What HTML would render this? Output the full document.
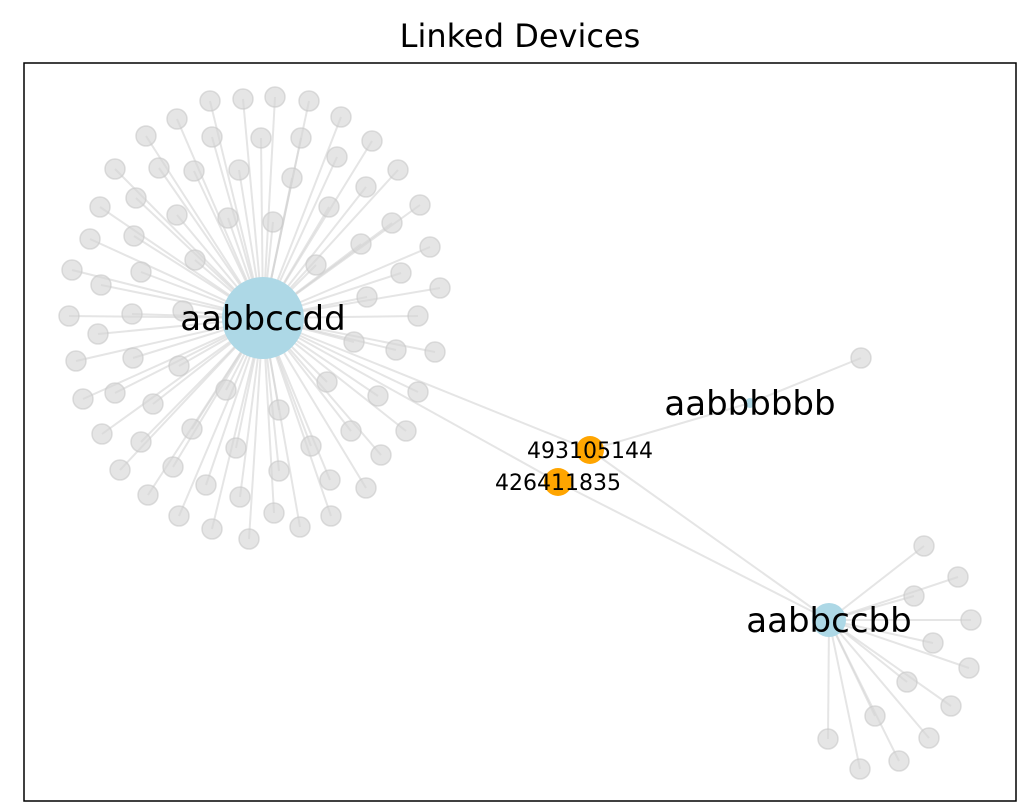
<!DOCTYPE html>
<html><head><meta charset="utf-8"><style>
html,body{margin:0;padding:0;background:#fff;}
svg{display:block;font-family:"DejaVu Sans","Liberation Sans",sans-serif;}
</style></head><body>
<svg id="chart" width="1036" height="810" viewBox="0 0 1036 810">
<text x="520" y="47" text-anchor="middle" font-size="32">Linked Devices</text>
<rect x="24" y="63" width="992" height="738" fill="none" stroke="#000" stroke-width="1.5"/>
<g id="edges"></g>
<g id="nodes"></g>
<g id="labels"></g>
</svg>
<script>
const hubNames = ["aabbccdd","aabbccbb","aabbbbbb"];
const hubX = [263,829,750];
const hubY = [318,620,403];
const hubR = [41,17,5];
const hubFont = [34,34,34];
const bridgeNames = ["493105144","426411835"];
const bridgeX = [590,558];
const bridgeY = [450,482];
const leafAX = [210,243,275,309,341,177,146,212,261,301,372,115,159,194,239,292,337,398,366,100,136,177,228,273,329,420,392,90,134,361,430,195,316,401,72,101,141,367,440,69,98,132,183,418,435,354,396,76,133,179,83,115,153,226,327,378,418,102,141,192,279,351,406,120,173,236,311,381,148,206,279,330,366,179,240,212,249,274,300,331];
const leafAY = [101,99,97,101,117,119,136,137,138,138,141,169,168,171,170,178,157,170,187,207,198,215,218,222,207,205,223,239,236,244,247,260,265,273,270,285,272,297,288,316,334,314,311,316,352,342,350,361,358,366,399,393,404,390,382,396,392,434,442,429,410,431,431,470,467,448,446,455,495,485,471,480,488,516,497,529,539,513,527,516];
const leafBX = [924,958,914,971,933,969,907,951,875,929,828,899,860];
const leafBY = [546,577,596,620,643,668,682,706,716,738,739,761,769];
const leafCX = [861];
const leafCY = [358];
const bridgeLinks = [[0,0],[0,1]];
const bridgeLinks2 = [[0,1],[0,2],[1,1]];

const NS="http://www.w3.org/2000/svg";
const E=document.getElementById('edges'),N=document.getElementById('nodes'),L=document.getElementById('labels');
function line(x1,y1,x2,y2){const l=document.createElementNS(NS,'line');
l.setAttribute('x1',x1);l.setAttribute('y1',y1);l.setAttribute('x2',x2);l.setAttribute('y2',y2);
l.setAttribute('stroke','#d3d3d3');l.setAttribute('stroke-opacity','0.6');l.setAttribute('stroke-width','2');


E.appendChild(l);}
function circ(x,y,r,fill,op,name){const c=document.createElementNS(NS,'circle');
c.setAttribute('cx',x);c.setAttribute('cy',y);c.setAttribute('r',r);c.setAttribute('fill',fill);c.setAttribute('fill-opacity',op);
if(fill==='#d3d3d3'){c.setAttribute('stroke','#c8c8c8');c.setAttribute('stroke-opacity','0.6');c.setAttribute('stroke-width','1.5');}


N.appendChild(c);}
function txt(x,y,s,size,name){const t=document.createElementNS(NS,'text');
t.setAttribute('x',x);t.setAttribute('y',y+size*0.36);t.setAttribute('text-anchor','middle');t.setAttribute('font-size',size);
t.textContent=s;


L.appendChild(t);}

leafAX.forEach((x,i)=>line(hubX[0],hubY[0],x,leafAY[i]));
leafBX.forEach((x,i)=>line(hubX[1],hubY[1],x,leafBY[i]));
leafCX.forEach((x,i)=>line(hubX[2],hubY[2],x,leafCY[i]));
bridgeLinks.forEach(([h,b])=>line(hubX[h],hubY[h],bridgeX[b],bridgeY[b]));
bridgeLinks2.forEach(([b,h])=>line(bridgeX[b],bridgeY[b],hubX[h],hubY[h]));

leafAX.forEach((x,i)=>circ(x,leafAY[i],10,'#d3d3d3',0.6,'device-node'));
leafBX.forEach((x,i)=>circ(x,leafBY[i],10,'#d3d3d3',0.6,'device-node'));
leafCX.forEach((x,i)=>circ(x,leafCY[i],10,'#d3d3d3',0.6,'device-node'));
bridgeX.forEach((x,i)=>circ(x,bridgeY[i],14,'#ffa500',1,'bridge-node'));
hubNames.forEach((n,i)=>circ(hubX[i],hubY[i],hubR[i],'#add8e6',1,'hub-node-'+n));
bridgeNames.forEach((n,i)=>txt(bridgeX[i],bridgeY[i],n,22,'bridge-label'));
hubNames.forEach((n,i)=>txt(hubX[i],hubY[i],n,hubFont[i],'hub-label'));
</script>
</body></html>
